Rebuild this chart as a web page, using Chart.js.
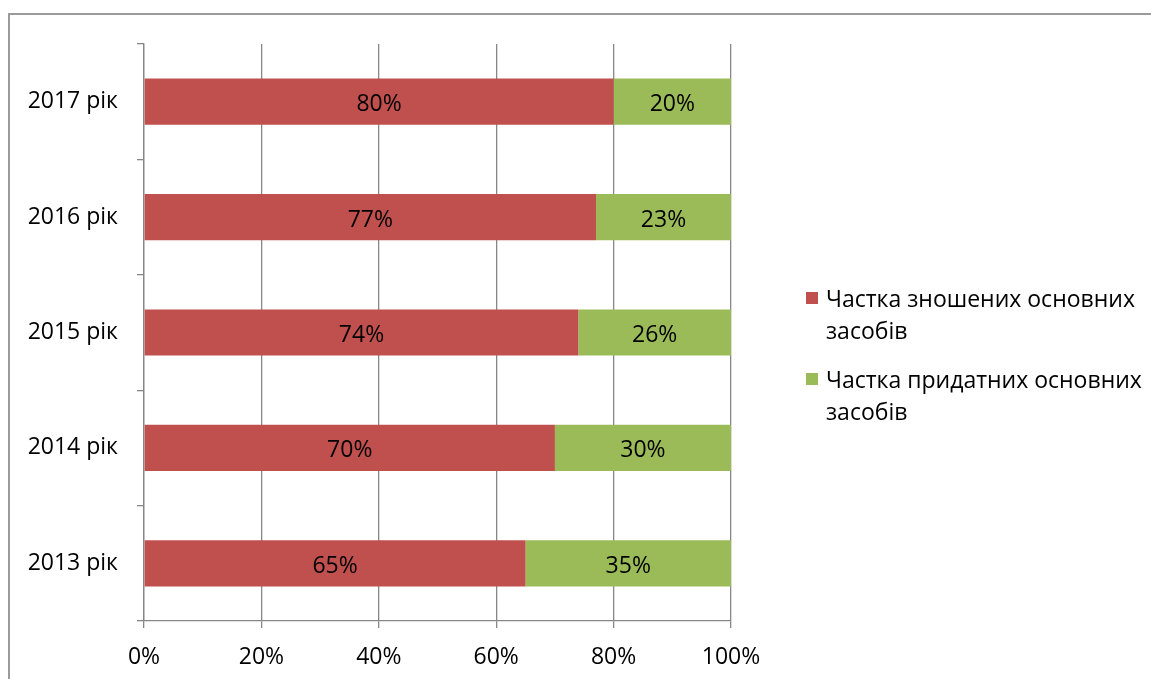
<!DOCTYPE html>
<html>
<head>
<meta charset="utf-8">
<script src="https://cdn.jsdelivr.net/npm/chart.js@4"></script>
<style>
  html, body { margin: 0; padding: 0; background: #fff; overflow: hidden; }
  #wrap { position: relative; width: 1151px; height: 679px; }
  #frame { position: absolute; left: 8px; top: 13px; width: 1200px; height: 720px; border: 2px solid #9a9a9a; box-sizing: border-box; }
  canvas { position: absolute; left: 0; top: 0; }
  .legend { position: absolute; left: 806px; font-family: 'Open Sans', sans-serif; font-size: 23px; color: #000; line-height: 32px; }
  .legend .item { position: relative; padding-left: 20px; width: 325px; }
  .legend .box { position: absolute; left: 0; top: 10px; width: 12px; height: 12px; }
</style>
</head>
<body>
<div id="wrap">
  <div id="frame"></div>
  <canvas id="chart" width="1151" height="679"></canvas>
  <div class="legend" id="legend" style="top:282px"></div>
</div>
<script>
// Categories (top to bottom) and series
const years = ['2017 рік', '2016 рік', '2015 рік', '2014 рік', '2013 рік'];
const wornShare = [80, 77, 74, 70, 65];
const fitShare = [20, 23, 26, 30, 35];
const seriesNames = ['Частка зношених основних засобів', 'Частка придатних основних засобів'];
const seriesColors = ['#C0504D', '#9BBB59'];
const xTicks = [0, 20, 40, 60, 80, 100];

const fontFamily = "'Open Sans', sans-serif";
const fontSize = 23;
const gridColor = '#878787';

// value labels in the middle of each segment
const barLabels = {
  id: 'barLabels',
  afterDatasetsDraw(chart) {
    const ctx = chart.ctx;
    ctx.save();
    ctx.font = fontSize + 'px ' + fontFamily;
    ctx.fillStyle = '#000';
    ctx.textAlign = 'center';
    ctx.textBaseline = 'middle';
    chart.data.datasets.forEach((ds, i) => {
      chart.getDatasetMeta(i).data.forEach((bar, j) => {
        const cx = (bar.x + bar.base) / 2;
        ctx.fillText(ds.data[j] + '%', cx, bar.y + 3);
      });
    });
    ctx.restore();
  }
};

new Chart(document.getElementById('chart'), {
  type: 'bar',
  data: {
    labels: years,
    datasets: [
      { label: seriesNames[0], data: wornShare, backgroundColor: seriesColors[0] },
      { label: seriesNames[1], data: fitShare, backgroundColor: seriesColors[1] }
    ]
  },
  options: {
    indexAxis: 'y',
    responsive: false,
    animation: false,
    events: [],
    datasets: { bar: { barPercentage: 1, categoryPercentage: 0.4 } },
    layout: { padding: { top: 44, right: 420, left: 0, bottom: 0 } },
    plugins: { legend: { display: false }, tooltip: { enabled: false } },
    scales: {
      x: {
        stacked: true,
        min: 0,
        max: 100,
        afterFit(scale) { scale.height = 58; },
        afterBuildTicks(scale) { scale.ticks = xTicks.map(v => ({ value: v })); },
        grid: { color: gridColor, lineWidth: 1.3, tickLength: 7 },
        border: { display: true, color: gridColor, width: 1.3 },
        ticks: {
          color: '#000',
          padding: 16,
          font: { family: fontFamily, size: fontSize },
          callback: v => v + '%'
        }
      },
      y: {
        stacked: true,
        afterFit(scale) { scale.width = 144; },
        grid: { drawOnChartArea: false, color: gridColor, lineWidth: 1.3, tickLength: 7, offset: true },
        border: { display: true, color: gridColor, width: 1.3 },
        ticks: {
          color: '#000',
          padding: 19,
          font: { family: fontFamily, size: fontSize }
        }
      }
    }
  },
  plugins: [barLabels]
});

// legend with wrapped text
const legend = document.getElementById('legend');
seriesNames.forEach((name, i) => {
  const item = document.createElement('div');
  item.className = 'item';
  if (i > 0) item.style.marginTop = '17px';
  const box = document.createElement('span');
  box.className = 'box';
  box.style.background = seriesColors[i];
  item.appendChild(box);
  item.appendChild(document.createTextNode(name));
  legend.appendChild(item);
});
</script>
</body>
</html>
